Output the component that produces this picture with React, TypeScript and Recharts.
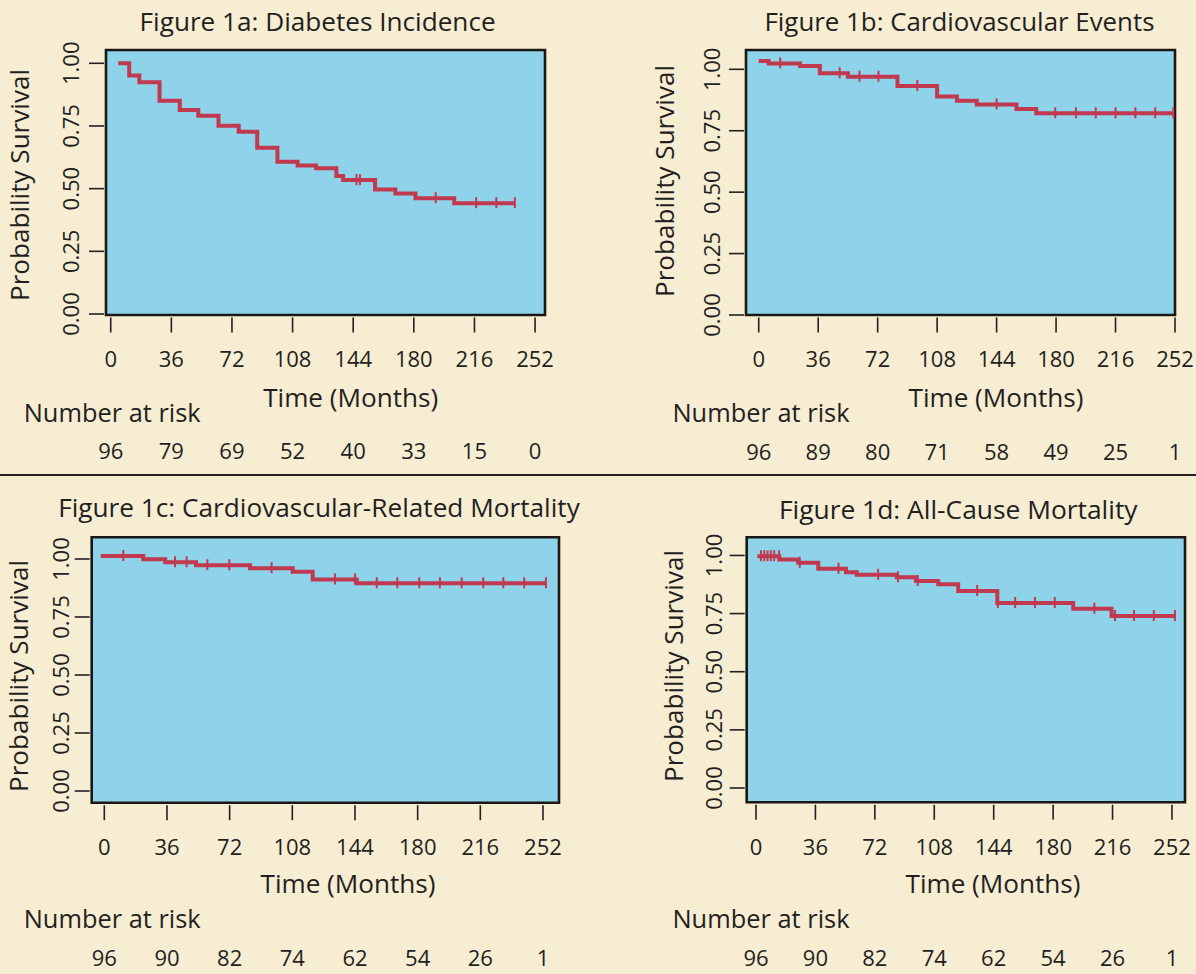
import React from 'react';
import { ComposedChart, Line, XAxis, YAxis, CartesianGrid, ReferenceArea } from 'recharts';

const CREAM = '#F7EDD3';
const SKY = '#8FD3EA';
const CURVE = '#C0394F';
const INK = '#231F20';
const FONT = '"Open Sans", sans-serif';

const W = 1196;
const H = 974;

const timeTicks = [0, 36, 72, 108, 144, 180, 216, 252];
const survTicks = [0, 0.25, 0.5, 0.75, 1];

// Figure 1a: diabetes incidence
const diabetesTime = [4.5, 11, 17, 29, 41, 52, 64, 76, 87, 99, 111, 122, 134, 138, 157, 169, 181, 204, 240];
const diabetesSurv = [1.0, 0.951, 0.924, 0.851, 0.814, 0.791, 0.751, 0.727, 0.663, 0.607, 0.592, 0.581, 0.55, 0.534, 0.497, 0.481, 0.462, 0.442, 0.442];
const diabetesCensor = [146, 148, 193, 217, 229, 240];
const diabetesRisk = [96, 79, 69, 52, 40, 33, 15, 0];

// Figure 1b: cardiovascular events
const cvEventTime = [0, 6, 25, 37, 54, 84, 108, 120, 132, 156, 168, 251];
const cvEventSurv = [1.034, 1.024, 1.013, 0.984, 0.97, 0.932, 0.889, 0.872, 0.857, 0.838, 0.821, 0.821];
const cvEventCensor = [13, 49, 61, 72.5, 96, 144, 179.5, 192, 204, 216, 228, 240, 251];
const cvEventRisk = [96, 89, 80, 71, 58, 49, 25, 1];

// Figure 1c: cardiovascular-related mortality
const cvDeathTime = [-2, 22.4, 35, 52.7, 83.7, 108.2, 119.7, 145, 254];
const cvDeathSurv = [1.013, 0.999, 0.986, 0.973, 0.96, 0.945, 0.912, 0.895, 0.895];
const cvDeathCensor = [10.9, 40.6, 47.3, 59.2, 71.8, 96.1, 132.5, 144, 156.5, 168.3, 180.9, 192.8, 205.3, 217.7, 229.2, 241.2, 253.7];
const cvDeathRisk = [96, 90, 82, 74, 62, 54, 26, 1];

// Figure 1d: all-cause mortality
const allDeathTime = [0.8, 14.1, 25.6, 37.7, 54.5, 61, 85.2, 96.9, 110.4, 122.5, 146.2, 192.2, 215.4, 253.8];
const allDeathSurv = [0.996, 0.983, 0.969, 0.943, 0.928, 0.917, 0.906, 0.89, 0.876, 0.847, 0.795, 0.771, 0.74, 0.74];
const allDeathCensor = [3, 5, 7, 9, 11, 14, 26.5, 50, 74, 86, 98, 134, 146.5, 157, 169, 181, 205, 217.5, 229, 241, 253.8];
const allDeathRisk = [96, 90, 82, 74, 62, 54, 26, 1];

const stepAt = (times: number[], surv: number[], t: number) => {
  let v = surv[0];
  times.forEach((ti, i) => {
    if (ti <= t) v = surv[i];
  });
  return v;
};

type Layout = {
  box: { left: number; top: number; right: number; bottom: number };
  xDomain: [number, number];
  yDomain: [number, number];
  title: { x: number; y: number; w: number };
  xTitle: { x: number; y: number };
  riskTitle: { x: number; y: number };
  yTitle: { x: number; y: number };
  yLabelOff: number;
  xLabelDy: number;
  riskDy: number;
};

type PanelProps = {
  title: string;
  time: number[];
  surv: number[];
  censor: number[];
  risk: number[];
  layout: Layout;
};

const YW = 30;
const XH = 30;

const Panel = ({ title, time, surv, censor, risk, layout }: PanelProps) => {
  const { box } = layout;
  const curve = time.map((t, i) => ({ t, s: surv[i] }));
  const marks = censor.map((t) => ({ t, s: stepAt(time, surv, t) }));

  const xTick = (props: any) => {
    const { x, y, payload } = props;
    const i = timeTicks.indexOf(payload.value);
    return (
      <g>
        <line x1={x} x2={x} y1={y + 2.5} y2={y + 17.5} stroke={INK} strokeWidth={1.6} />
        <text x={x} y={y + layout.xLabelDy} textAnchor="middle" fontFamily={FONT} fontSize={22} fill={INK}>
          {payload.value}
        </text>
        <text x={x} y={y + layout.riskDy} textAnchor="middle" fontFamily={FONT} fontSize={22} fill={INK}>
          {risk[i]}
        </text>
      </g>
    );
  };

  const yTick = (props: any) => {
    const { x, y, payload } = props;
    return (
      <g>
        <line x1={x - 17} x2={x - 2} y1={y} y2={y} stroke={INK} strokeWidth={1.6} />
        <text
          transform={`translate(${x - layout.yLabelOff},${y}) rotate(-90)`}
          textAnchor="middle"
          fontFamily={FONT}
          fontSize={22}
          fill={INK}
        >
          {Number(payload.value).toFixed(2)}
        </text>
      </g>
    );
  };

  const censorDot = (props: any) => {
    const { cx, cy, index } = props;
    return <line key={index} x1={cx} x2={cx} y1={cy - 6} y2={cy + 5} stroke={CURVE} strokeWidth={2} />;
  };

  return (
    <>
      <div style={{ position: 'absolute', left: 0, top: 0 }}>
        <ComposedChart
          width={W}
          height={H}
          margin={{
            left: box.left - YW,
            top: box.top,
            right: W - box.right,
            bottom: H - box.bottom - XH,
          }}
        >
          <CartesianGrid horizontal={false} vertical={false} fill={SKY} fillOpacity={1} />
          <XAxis
            type="number"
            dataKey="t"
            domain={layout.xDomain}
            allowDataOverflow
            ticks={timeTicks}
            interval={0}
            height={XH}
            axisLine={false}
            tickLine={false}
            tickSize={0}
            tickMargin={0}
            tick={xTick}
          />
          <YAxis
            type="number"
            dataKey="s"
            domain={layout.yDomain}
            allowDataOverflow
            ticks={survTicks}
            interval={0}
            width={YW}
            axisLine={false}
            tickLine={false}
            tickSize={0}
            tickMargin={0}
            tick={yTick}
          />
          <Line
            data={curve}
            dataKey="s"
            type="stepAfter"
            stroke={CURVE}
            strokeWidth={4}
            dot={false}
            activeDot={false}
            isAnimationActive={false}
          />
          <Line
            data={marks}
            dataKey="s"
            stroke="none"
            dot={censorDot}
            activeDot={false}
            isAnimationActive={false}
          />
          <ReferenceArea
            x1={layout.xDomain[0]}
            x2={layout.xDomain[1]}
            y1={layout.yDomain[0]}
            y2={layout.yDomain[1]}
            fill="none"
            stroke="#1C1714"
            strokeWidth={2.6}
            ifOverflow="visible"
          />
        </ComposedChart>
      </div>
      <svg width={W} height={H} style={{ position: 'absolute', left: 0, top: 0, pointerEvents: 'none' }}>
        <g fontFamily={FONT} fill={INK}>
          <text
            x={layout.title.x}
            y={layout.title.y}
            textAnchor="middle"
            fontSize={25}
            textLength={layout.title.w}
            lengthAdjust="spacingAndGlyphs"
          >
            {title}
          </text>
          <text x={layout.xTitle.x} y={layout.xTitle.y} textAnchor="middle" fontSize={25} textLength={175} lengthAdjust="spacingAndGlyphs">
            Time (Months)
          </text>
          <text x={layout.riskTitle.x} y={layout.riskTitle.y} fontSize={25} textLength={177} lengthAdjust="spacingAndGlyphs">
            Number at risk
          </text>
          <text
            transform={`translate(${layout.yTitle.x},${layout.yTitle.y}) rotate(-90)`}
            textAnchor="middle"
            fontSize={25}
            textLength={232}
            lengthAdjust="spacingAndGlyphs"
          >
            Probability Survival
          </text>
        </g>
      </svg>
    </>
  );
};

const layoutA: Layout = {
  box: { left: 106, top: 50, right: 545, bottom: 315 },
  xDomain: [-2.8, 257.9],
  yDomain: [-0.004, 1.053],
  title: { x: 317.6, y: 30.7, w: 356 },
  xTitle: { x: 350.7, y: 406.7 },
  riskTitle: { x: 23.7, y: 421.7 },
  yTitle: { x: 29, y: 185 },
  yLabelOff: 27.5,
  xLabelDy: 51.7,
  riskDy: 144.3,
};

const layoutB: Layout = {
  box: { left: 746, top: 50, right: 1175, bottom: 315 },
  xDomain: [-7.7, 252],
  yDomain: [0, 1.0786],
  title: { x: 959.5, y: 30.7, w: 390 },
  xTitle: { x: 996, y: 406.7 },
  riskTitle: { x: 672.5, y: 421.7 },
  yTitle: { x: 674, y: 181 },
  yLabelOff: 25.6,
  xLabelDy: 51.7,
  riskDy: 145,
};

const layoutC: Layout = {
  box: { left: 91.7, top: 537.3, right: 559, bottom: 802.7 },
  xDomain: [-7.24, 261.2],
  yDomain: [-0.0504, 1.0935],
  title: { x: 319, y: 516.7, w: 521.6 },
  xTitle: { x: 348, y: 893.3 },
  riskTitle: { x: 23.7, y: 928.3 },
  yTitle: { x: 28, y: 676 },
  yLabelOff: 22.8,
  xLabelDy: 52.3,
  riskDy: 163.5,
};

const layoutD: Layout = {
  box: { left: 746.7, top: 537.3, right: 1185, bottom: 802.3 },
  xDomain: [-5.63, 259.9],
  yDomain: [-0.0615, 1.078],
  title: { x: 958.2, y: 519.3, w: 358.6 },
  xTitle: { x: 993, y: 893.3 },
  riskTitle: { x: 672.5, y: 928.3 },
  yTitle: { x: 683, y: 666 },
  yLabelOff: 24.4,
  xLabelDy: 52.7,
  riskDy: 163.5,
};

export default function App() {
  return (
    <div style={{ position: 'absolute', left: 0, top: 0, width: W, height: H, background: CREAM, overflow: 'hidden' }}>
      <Panel
        title="Figure 1a: Diabetes Incidence"
        time={diabetesTime}
        surv={diabetesSurv}
        censor={diabetesCensor}
        risk={diabetesRisk}
        layout={layoutA}
      />
      <Panel
        title="Figure 1b: Cardiovascular Events"
        time={cvEventTime}
        surv={cvEventSurv}
        censor={cvEventCensor}
        risk={cvEventRisk}
        layout={layoutB}
      />
      <Panel
        title="Figure 1c: Cardiovascular-Related Mortality"
        time={cvDeathTime}
        surv={cvDeathSurv}
        censor={cvDeathCensor}
        risk={cvDeathRisk}
        layout={layoutC}
      />
      <Panel
        title="Figure 1d: All-Cause Mortality"
        time={allDeathTime}
        surv={allDeathSurv}
        censor={allDeathCensor}
        risk={allDeathRisk}
        layout={layoutD}
      />
      <div style={{ position: 'absolute', left: 0, top: 474, width: W, height: 2, background: INK }} />
    </div>
  );
}
